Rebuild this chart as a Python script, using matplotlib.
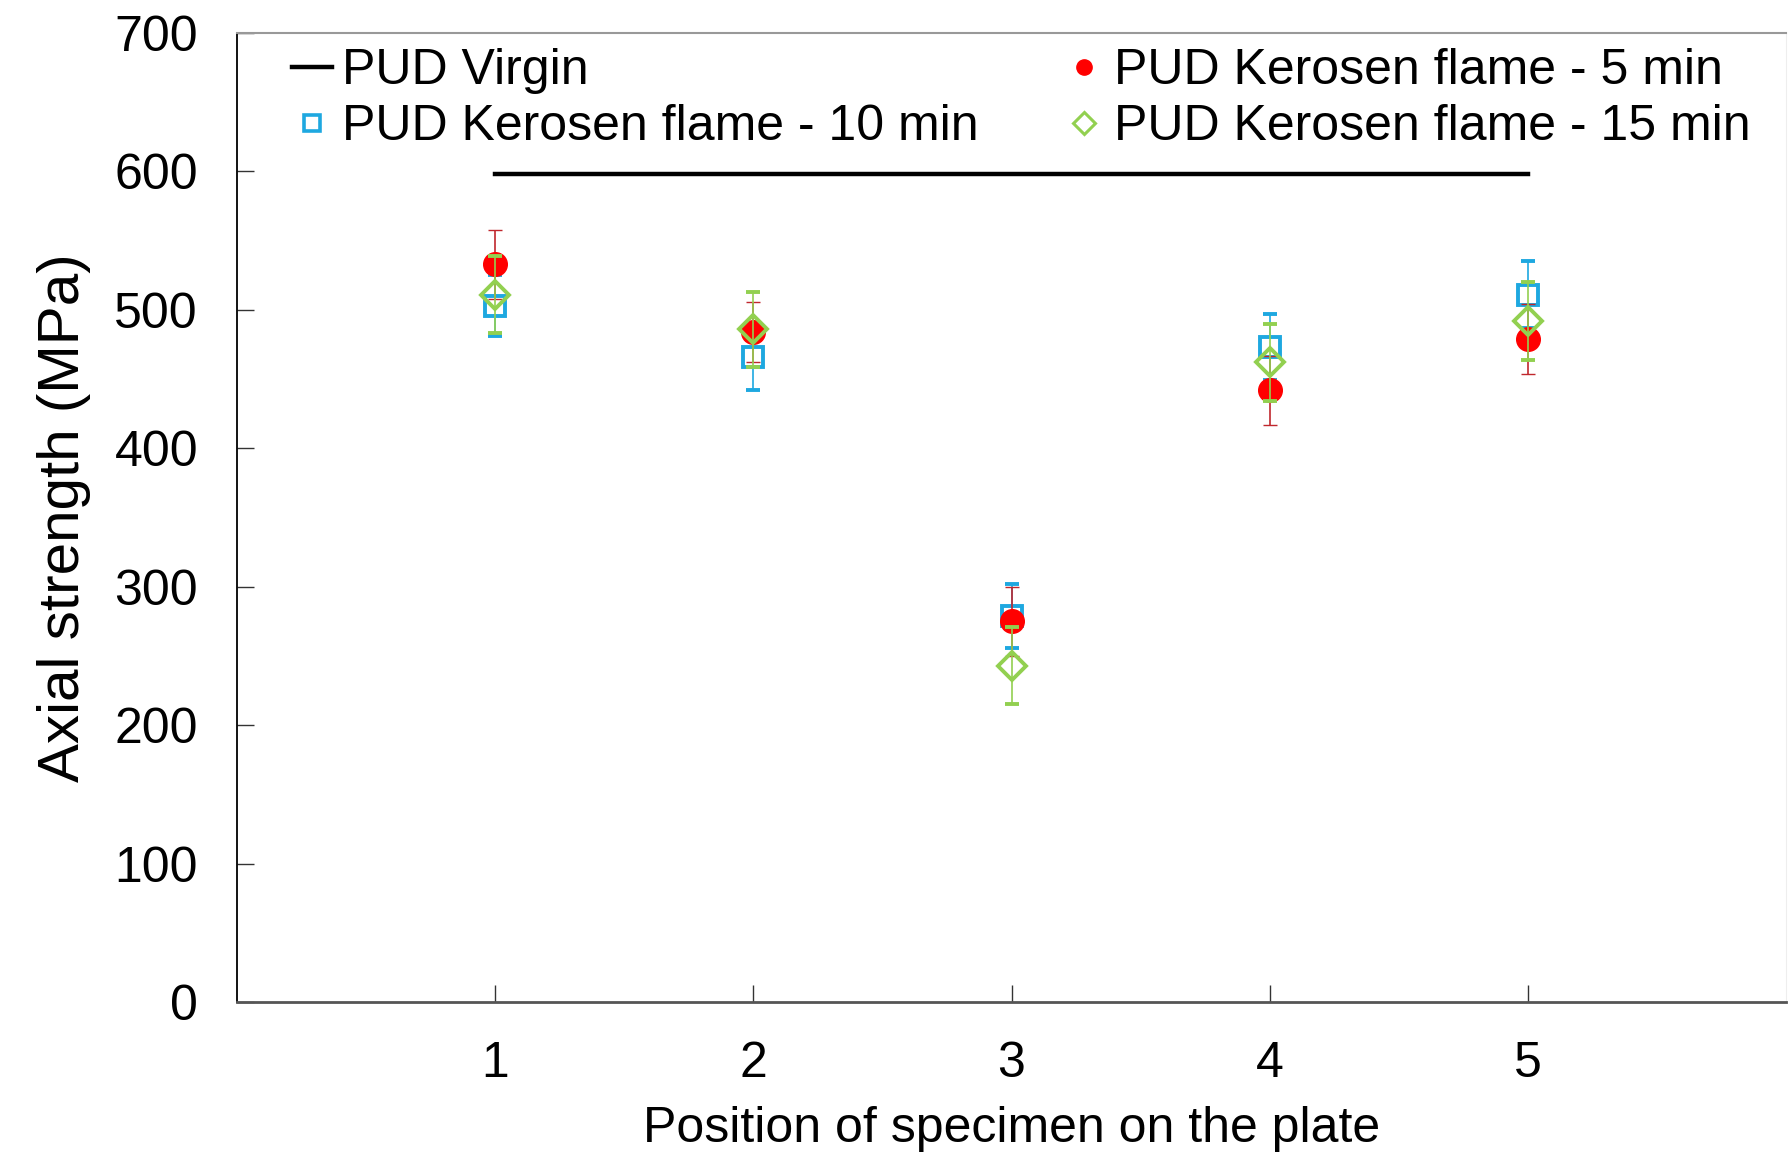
import matplotlib
matplotlib.use("Agg")
import matplotlib.pyplot as plt
from matplotlib.lines import Line2D
import numpy as np

plt.rcParams['font.family'] = ['Liberation Sans', 'DejaVu Sans']

positions = [1, 2, 3, 4, 5]
virgin = 598

min5 = [533, 484, 275, 442, 479]
min5_err = [25, 22, 25, 25, 25]
min10 = [503, 466, 279, 473, 511]
min10_err = [22, 24, 23, 24, 24]
min15 = [511, 486, 243, 462, 492]
min15_err = [28, 27, 28, 28, 28]

blue = '#1EA8E0'
red = '#FF0000'
green = '#92D050'

fig = plt.figure(figsize=[17.88, 11.53], dpi=100)
ax = fig.add_axes([0.1325, 0.131, 0.8665, 0.8404])

ax.plot([positions[0], positions[-1]], [virgin, virgin], '-', color='black', linewidth=3.2)

ax.errorbar(positions, min10, yerr=min10_err, fmt='s', color=blue, markerfacecolor='white',
            markeredgecolor=blue, markeredgewidth=2.8, markersize=15, ecolor=blue,
            elinewidth=1.2, capsize=5, zorder=3)
ax.errorbar(positions, min5, yerr=min5_err, fmt='o', color=red, markersize=17,
            ecolor='#C0272D', elinewidth=1.2, capsize=5, zorder=4)
ax.errorbar(positions, min15, yerr=min15_err, fmt='D', color=green, markerfacecolor='none',
            markeredgecolor=green, markeredgewidth=2.8, markersize=14, ecolor=green,
            elinewidth=1.2, capsize=5, zorder=5)

ax.set_xlim(0, 6)
ax.set_ylim(0, 700)
ax.set_xticks(positions)
ax.set_yticks(np.arange(0, 701, 100))

ax.tick_params(axis='x', direction='in', length=12, width=1, labelsize=36, pad=28, color='#333333')
ax.tick_params(axis='y', direction='in', length=12, width=1, labelsize=36, pad=28, color='#333333')

ax.spines['left'].set_color('black')
ax.spines['left'].set_linewidth(1.3)
ax.spines['bottom'].set_color('#555555')
ax.spines['bottom'].set_linewidth(2.0)
ax.spines['top'].set_color('#999999')
ax.spines['top'].set_linewidth(1.5)
ax.spines['right'].set_color('#eeeeee')

ax.set_xlabel('Position of specimen on the plate', fontsize=36, labelpad=14)
ax.set_ylabel('Axial strength (MPa)', fontsize=42, labelpad=17)

handles = [
    Line2D([], [], color='black', linewidth=3.2),
    Line2D([], [], linestyle='none', marker='s', markersize=11, markerfacecolor='white',
           markeredgecolor=blue, markeredgewidth=2.6),
    Line2D([], [], linestyle='none', marker='o', markersize=11, color=red),
    Line2D([], [], linestyle='none', marker='D', markersize=11, markerfacecolor='none',
           markeredgecolor=green, markeredgewidth=2.2),
]
labels = ['PUD Virgin', 'PUD Kerosen flame - 10 min',
          'PUD Kerosen flame - 5 min', 'PUD Kerosen flame - 15 min']
ax.legend(handles, labels, ncol=2, loc='upper left', bbox_to_anchor=(0.016, 1.015),
          frameon=False, fontsize=36, handlelength=0.8, handletextpad=0.2,
          columnspacing=1.72, labelspacing=0.2, borderaxespad=0.2)

plt.savefig('out.png', dpi=100)
plt.close()
